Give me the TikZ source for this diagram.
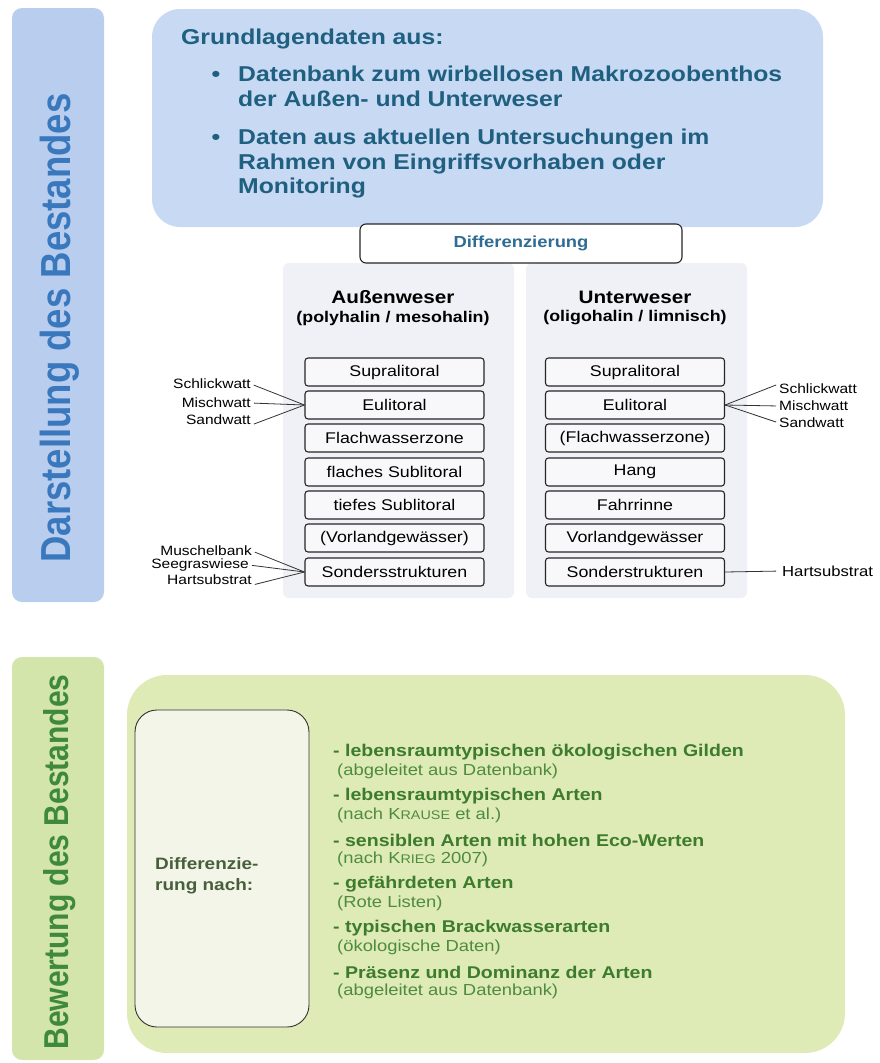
\documentclass[tikz,border=0pt]{standalone}
\usepackage{fontspec}
\setmainfont{Liberation Sans}[FakeStretch=1.15]
\newfontfamily\sidefont{Liberation Sans}[FakeStretch=0.87]
\usepackage{xcolor}
\usetikzlibrary{positioning}

\definecolor{barblue}{HTML}{B9CDEE}
\definecolor{boxblue}{HTML}{C7D9F3}
\definecolor{labelblue}{HTML}{3A78BE}
\definecolor{tealtext}{HTML}{1F5F80}
\definecolor{difftext}{HTML}{2F6C93}
\definecolor{panelgrey}{HTML}{EFF1F6}
\definecolor{zonefill}{HTML}{F8F8FA}
\definecolor{bargreen}{HTML}{D4E5AC}
\definecolor{boxgreen}{HTML}{DEEBB7}
\definecolor{labelgreen}{HTML}{3E8A3A}
\definecolor{greentext}{HTML}{3D7B2D}
\definecolor{greensub}{HTML}{4E8B3F}
\definecolor{innerfill}{HTML}{F4F5E9}
\definecolor{nachtext}{HTML}{485F3C}

\newcommand{\kap}[1]{{\fontsize{12.5}{14}\selectfont #1}}

\begin{document}
\begin{tikzpicture}[x=1pt, y=-1pt,
            bar/.style={rounded corners=10pt, minimum width=92pt, inner sep=0pt},
            sidelabel/.style={rotate=90, inner sep=0pt},
            panel/.style={fill=panelgrey, rounded corners=6pt, inner sep=0pt},
            toptext/.style={text=tealtext, font=\bfseries\fontsize{21.5}{24.5}\selectfont, inner sep=0pt},
            zone/.style={draw=black!85, line width=1.1pt, rounded corners=3pt, fill=zonefill,
                minimum width=179pt, minimum height=28pt, inner sep=0pt,
                font=\fontsize{15.5}{18}\selectfont},
            head/.style={font=\bfseries\fontsize{18}{20}\selectfont, inner sep=0pt},
            subhead/.style={font=\bfseries\fontsize{15.5}{18}\selectfont, inner sep=0pt},
            note/.style={font=\fontsize{13.5}{16}\selectfont, inner sep=0pt},
            link/.style={line width=0.8pt, black!80},
            itemhead/.style={text=greentext, font=\bfseries\fontsize{17}{20}\selectfont, inner sep=0pt},
            itemsub/.style={text=greensub, font=\fontsize{16}{18}\selectfont, inner sep=0pt}
        ]
        \useasboundingbox (0,0) rectangle (879,1063);

        % Upper part: Darstellung
        \node[bar, fill=barblue, minimum height=594pt] (barTop) at (58,305) {};
        \node[sidelabel, text=labelblue, font=\sidefont\bfseries\fontsize{42}{46}\selectfont] (labelTop) at (60,328) {Darstellung des Bestandes};

        \node[fill=boxblue, rounded corners=28pt, minimum width=671pt, minimum height=218pt, inner sep=0pt] (basis) at (487.5,118) {};
        \node[toptext, anchor=west] (basisTitle) at (181,39) {Grundlagendaten aus:};
        \node[toptext, anchor=base] (dot1) at (216,81) {\textbullet};
        \node[toptext, anchor=north west, align=left] (src1) at (238,66) {Datenbank zum wirbellosen Makrozoobenthos\\der Außen- und Unterweser};
        \node[toptext, anchor=base] (dot2) at (216,144) {\textbullet};
        \node[toptext, anchor=north west, align=left] (src2) at (238,129) {Daten aus aktuellen Untersuchungen im\\Rahmen von Eingriffsvorhaben oder\\Monitoring};

        \node[panel, minimum width=231pt, minimum height=335pt] (panelL) at (398.5,430.5) {};
        \node[panel, minimum width=221pt, minimum height=335pt] (panelR) at (636.5,430.5) {};

        \node[draw=black!85, line width=1.1pt, fill=white, rounded corners=6pt, minimum width=322pt, minimum height=39pt,
            text=difftext, font=\bfseries\fontsize{16}{19}\selectfont] (diff) at (521,243.5) {Differenzierung};

        \node[head] (aussen) at (393,297) {Außenweser};
        \node[subhead, below=7pt of aussen] (aussenSub) {(polyhalin / mesohalin)};
        \node[head] (unter) at (635,297) {Unterweser};
        \node[subhead, below=7pt of unter] (unterSub) {(oligohalin / limnisch)};

        % Zones
        \foreach \n/\t/\yy in {sup/Supralitoral/372, eu/Eulitoral/405, flach/Flachwasserzone/438,
                fsub/flaches Sublitoral/472, tsub/tiefes Sublitoral/505, vor/(Vorlandgewässer)/538,
                sonder/Sondersstrukturen/572}
            \node[zone] (L\n) at (394.5,\yy) {\t};
        \foreach \n/\t/\yy in {sup/Supralitoral/372, eu/Eulitoral/405, flach/(Flachwasserzone)/438,
                hang/Hang/472, rinne/Fahrrinne/505, vor/Vorlandgewässer/538,
                sonder/Sonderstrukturen/572}
            \node[zone] (R\n) at (635,\yy) {\t};

        % Notes
        \node[note, anchor=east] (lSchlick) at (251,384) {Schlickwatt};
        \node[note, anchor=east] (lMisch) at (251,403) {Mischwatt};
        \node[note, anchor=east] (lSand) at (251,420) {Sandwatt};
        \node[note, anchor=east] (lMuschel) at (252,551) {Muschelbank};
        \node[note, anchor=east] (lSeegras) at (249,565) {Seegraswiese};
        \node[note, anchor=east] (lHart) at (252,580) {Hartsubstrat};
        \node[note, anchor=west] (rSchlick) at (779,389) {Schlickwatt};
        \node[note, anchor=west] (rMisch) at (779,406) {Mischwatt};
        \node[note, anchor=west] (rSand) at (779,423) {Sandwatt};
        \node[note, anchor=west, font=\fontsize{14.5}{16}\selectfont] (rHart) at (782,571) {Hartsubstrat};

        % Edges
        \draw[link, shorten <=3pt] (lSchlick.east) -- (Leu.west);
        \draw[link, shorten <=3pt] (lMisch.east) -- (Leu.west);
        \draw[link, shorten <=3pt] (lSand.south east) -- (Leu.west);
        \draw[link, shorten <=3pt] (lMuschel.east) -- (Lsonder.west);
        \draw[link, shorten <=3pt] (lSeegras.east) -- (Lsonder.west);
        \draw[link, shorten <=3pt] (lHart.south east) -- (Lsonder.west);
        \draw[link, shorten >=3pt] (Reu.east) -- (rSchlick.north west);
        \draw[link, shorten >=3pt] (Reu.east) -- (rMisch.west);
        \draw[link, shorten >=3pt] (Reu.east) -- (rSand.west);
        \draw[link, shorten >=6pt] (Rsonder.east) -- (rHart.west);

        % Lower part: Bewertung
        \node[bar, fill=bargreen, minimum height=403pt] (barBottom) at (58,858.5) {};
        \node[sidelabel, text=labelgreen, font=\sidefont\bfseries\fontsize{34.5}{40}\selectfont] (labelBottom) at (60,862) {Bewertung des Bestandes};

        \node[fill=boxgreen, rounded corners=40pt, minimum width=718pt, minimum height=378pt, inner sep=0pt] (bewertung) at (486,864) {};
        \node[draw=black!80, line width=0.9pt, fill=innerfill, rounded corners=22pt, minimum width=174pt, minimum height=317pt] (nachBox) at (222,868.5) {};
        \node[text=nachtext, font=\bfseries\fontsize{16.5}{21}\selectfont, align=left, anchor=west, inner sep=0pt] (nach) at (155,876) {Differenzie-\\rung nach:};

        \foreach \h/\s [count=\i from 0] in {
                {lebensraumtypischen ökologischen Gilden}/{(abgeleitet aus Datenbank)},
                {lebensraumtypischen Arten}/{(nach K\kap{RAUSE} et al.)},
                {sensiblen Arten mit hohen Eco-Werten}/{(nach K\kap{RIEG} 2007)},
                {gefährdeten Arten}/{(Rote Listen)},
                {typischen Brackwasserarten}/{(ökologische Daten)},
                {Präsenz und Dominanz der Arten}/{(abgeleitet aus Datenbank)}} {
            \node[itemhead, anchor=west] (head\i) at (333,752+44*\i) {- \h};
            \node[itemsub, anchor=west] (sub\i) at (337,771+44*\i) {\s};
        }

    \end{tikzpicture}
\end{document}
